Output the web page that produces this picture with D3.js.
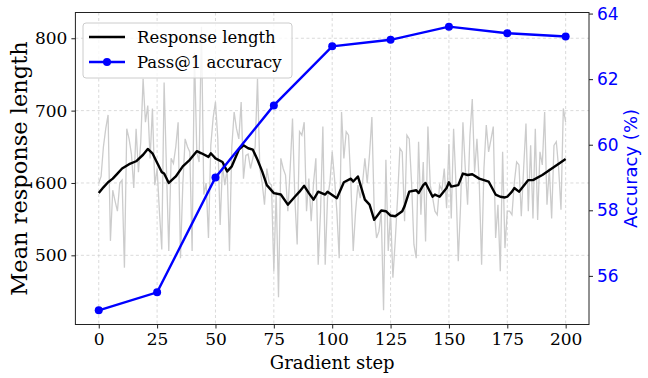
<!DOCTYPE html>
<html><head><meta charset="utf-8">
<script src="https://cdn.jsdelivr.net/npm/d3@7"></script>
<style>body{margin:0;background:#fff}svg{display:block}</style>
</head><body>
<script>
// ---- data ----
const rawLength = [600,609,650,675,694,520,590,575,561,600,604,483,675,661,640,593,675,615,657,744,
684,707,634,703,597,620,560,508,739,620,506,634,627,650,684,496,597,661,650,643,
506,780,643,629,816,584,600,524,652,690,712,661,542,625,597,620,506,650,698,675,
661,712,606,638,640,620,634,650,744,620,600,570,620,600,597,478,588,442,634,620,
611,561,620,689,579,515,671,666,684,561,606,547,600,634,487,560,678,487,579,600,
643,606,560,496,698,634,671,666,600,506,560,597,579,600,634,600,640,691,561,524,
533,560,424,632,506,560,469,520,579,648,643,547,666,661,600,515,496,657,556,629,
519,678,597,580,561,556,597,590,620,565,654,551,675,600,492,570,684,620,570,666,
716,615,661,600,487,620,680,643,660,678,524,570,478,643,510,561,561,556,600,629,
625,554,620,682,561,652,551,675,549,643,625,698,570,620,551,652,657,620,563,703,684];
const smoothSteps = [0,2,4,6,8,10,13,16,19,21,23,25,27,28,30,33,36,39,42,44,47,48,50,53,55,57,60,62,64,66,68,70,72,75,78,81,84,86,88,90,92,94,97,98,102,105,108,109,111,114,116,118,121,123,125,127,130,131,133,136,137,139,140,143,144,146,149,150,151,154,156,158,160,163,167,170,172,174,175,177,178,180,184,186,190,195,200];
const smoothLength = [586,594,601,606,613,620,626,630,639,647,641,628,615,613,600,609,623,632,644,641,636,641,634,629,616,623,646,652,648,646,632,616,597,586,584,570,581,588,596,586,577,588,584,588,579,601,606,602,609,577,570,549,562,561,555,554,561,568,588,590,586,597,600,581,584,581,593,601,595,597,613,611,612,606,602,584,581,580,581,588,593,588,604,604,611,622,633];
const accSteps = [0,25,50,75,100,125,150,175,200];
const accuracy = [54.95,55.5,59.0,61.2,63.0,63.2,63.6,63.4,63.3];
const xTicks = [0,25,50,75,100,125,150,175,200];
const yLeftTicks = [500,600,700,800];
const yRightTicks = [56,58,60,62,64];
const legendLabels = ["Response length","Pass@1 accuracy"];

// ---- layout ----
const W = 648, H = 378;
const L = 75.4, R = 589, T = 12.5, B = 324.5;
const svg = d3.select("body").append("svg").attr("width", W).attr("height", H);

function pad(ext){ const d = ext[1]-ext[0]; return [ext[0]-0.05*d, ext[1]+0.05*d]; }
const x = d3.scaleLinear().domain(pad([0,200])).range([L,R]);
const yL = d3.scaleLinear().domain(pad(d3.extent(rawLength))).range([B,T]);
const yR = d3.scaleLinear().domain(pad(d3.extent(accuracy))).range([B,T]);

const serif = "'DejaVu Serif', serif";
const sans = "'DejaVu Sans', sans-serif";

// grid
const grid = svg.append("g");
xTicks.forEach(t => grid.append("line").attr("x1", x(t)).attr("x2", x(t)).attr("y1", T).attr("y2", B)
  .attr("stroke", "#d0d0d0").attr("stroke-width", 0.8).attr("stroke-dasharray", "3,2.5"));
yLeftTicks.forEach(t => grid.append("line").attr("x1", L).attr("x2", R).attr("y1", yL(t)).attr("y2", yL(t))
  .attr("stroke", "#d0d0d0").attr("stroke-width", 0.8).attr("stroke-dasharray", "3,2.5"));

// raw line
const steps = rawLength.map((_, i) => i);
svg.append("path").datum(steps)
  .attr("d", d3.line().x(i => x(i)).y(i => yL(rawLength[i])))
  .attr("fill", "none").attr("stroke", "#cccccc").attr("stroke-width", 1.3);

// smoothed line
svg.append("path").datum(smoothSteps)
  .attr("d", d3.line().x(s => x(s)).y((s, i) => yL(smoothLength[i])))
  .attr("fill", "none").attr("stroke", "#000").attr("stroke-width", 2.4).attr("stroke-linejoin", "round");

// accuracy line
svg.append("path").datum(accSteps)
  .attr("d", d3.line().x(s => x(s)).y((s, i) => yR(accuracy[i])))
  .attr("fill", "none").attr("stroke", "#0000ff").attr("stroke-width", 2.4);
svg.append("g").selectAll("circle").data(accSteps).join("circle")
  .attr("cx", s => x(s)).attr("cy", (s, i) => yR(accuracy[i])).attr("r", 4).attr("fill", "#0000ff");

// axes
const xAxis = svg.append("g").attr("transform", `translate(0,${B})`)
  .call(d3.axisBottom(x).tickValues(xTicks).tickSize(4).tickPadding(4).tickFormat(d3.format("d")));
xAxis.selectAll("text").attr("font-family", serif).attr("font-size", 17).attr("fill", "#000");
const yAxisL = svg.append("g").attr("transform", `translate(${L},0)`)
  .call(d3.axisLeft(yL).tickValues(yLeftTicks).tickSize(4).tickPadding(4));
yAxisL.selectAll("text").attr("font-family", serif).attr("font-size", 17).attr("fill", "#000");
const yAxisR = svg.append("g").attr("transform", `translate(${R},0)`)
  .call(d3.axisRight(yR).tickValues(yRightTicks).tickSize(4).tickPadding(4));
yAxisR.selectAll("text").attr("font-family", sans).attr("font-size", 17).attr("fill", "#0000ff");
[xAxis, yAxisL, yAxisR].forEach(g => { g.select(".domain").remove(); g.selectAll("line").attr("stroke", "#222"); });

// frame
svg.append("rect").attr("x", L).attr("y", T).attr("width", R-L).attr("height", B-T)
  .attr("fill", "none").attr("stroke", "#222").attr("stroke-width", 1);

// axis titles
svg.append("text").attr("transform", `translate(27,${(T+B)/2}) rotate(-90)`)
  .attr("text-anchor", "middle").attr("font-family", serif).attr("font-size", 22.5).text("Mean response length");
svg.append("text").attr("x", (L+R)/2).attr("y", 369).attr("text-anchor", "middle")
  .attr("font-family", serif).attr("font-size", 18).text("Gradient step");
svg.append("text").attr("transform", `translate(637,${(T+B)/2}) rotate(-90)`)
  .attr("text-anchor", "middle").attr("font-family", sans).attr("font-size", 18).attr("fill", "#0000ff").text("Accuracy (%)");

// legend
const lg = svg.append("g");
lg.append("rect").attr("x", 83).attr("y", 23).attr("width", 209).attr("height", 55).attr("rx", 3)
  .attr("fill", "#fff").attr("fill-opacity", 0.8).attr("stroke", "#ccc").attr("stroke-width", 1);
const legendColors = ["#000", "#0000ff"];
legendLabels.forEach((lab, i) => {
  const yy = 37 + i * 25;
  lg.append("line").attr("x1", 89).attr("x2", 125).attr("y1", yy).attr("y2", yy)
    .attr("stroke", legendColors[i]).attr("stroke-width", 2.4);
  if (i === 1) lg.append("circle").attr("cx", 107).attr("cy", yy).attr("r", 4).attr("fill", legendColors[i]);
  lg.append("text").attr("x", 137).attr("y", yy + 5.5).attr("font-family", serif).attr("font-size", 16.5).text(lab);
});
</script>
</body></html>
